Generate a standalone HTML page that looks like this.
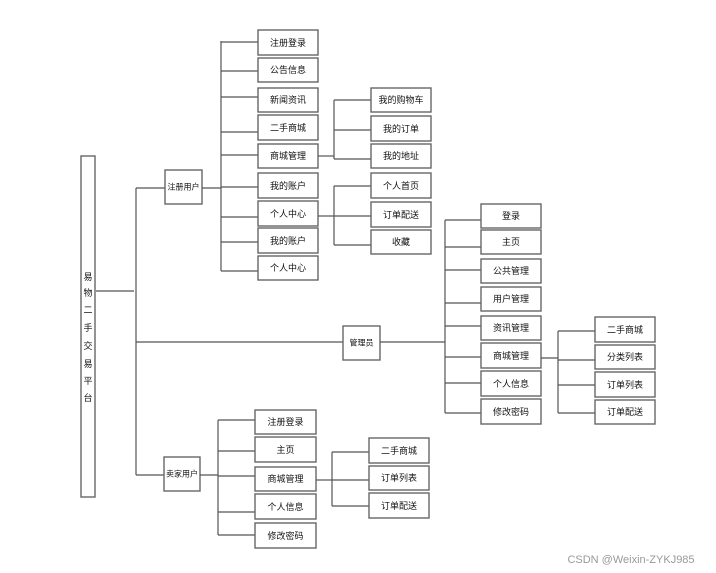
<!DOCTYPE html>
<html><head><meta charset="utf-8"><style>
html,body{margin:0;padding:0;background:#fff;}
svg{display:block;}
text{font-family:"Liberation Sans","Noto Sans CJK SC",sans-serif;font-size:9px;fill:#111;text-anchor:middle;dominant-baseline:central;}
text.s{font-size:8px;}
rect{fill:#fff;stroke:#666;stroke-width:1.4;}
line{stroke:#555;stroke-width:1.2;}
</style></head><body>
<svg width="716" height="573" viewBox="0 0 716 573">
<rect x="81" y="156" width="14" height="341"/>
<g>
<text x="88" y="277">易</text><text x="88" y="293">物</text><text x="88" y="310">二</text><text x="88" y="328">手</text><text x="88" y="346">交</text><text x="88" y="364">易</text><text x="88" y="381">平</text><text x="88" y="398">台</text>
</g>
<line x1="96" y1="291" x2="134" y2="291"/>
<line x1="136" y1="188" x2="136" y2="475"/>
<line x1="136" y1="188" x2="165" y2="188"/>
<line x1="136" y1="342" x2="343" y2="342"/>
<line x1="136" y1="475" x2="164" y2="475"/>

<rect x="165" y="170" width="37" height="34"/><text class="s" x="183.5" y="187">注册用户</text>
<line x1="202" y1="188" x2="221" y2="188"/>
<line x1="221" y1="41" x2="221" y2="271"/>
<g>
<line x1="221" y1="42" x2="258" y2="42"/><line x1="221" y1="71" x2="258" y2="71"/><line x1="221" y1="97" x2="258" y2="97"/><line x1="221" y1="132" x2="258" y2="132"/><line x1="221" y1="155" x2="258" y2="155"/><line x1="221" y1="187" x2="258" y2="187"/><line x1="221" y1="217" x2="258" y2="217"/><line x1="221" y1="242" x2="258" y2="242"/><line x1="221" y1="271" x2="258" y2="271"/>
</g>
<rect x="258" y="30" width="60" height="25"/><text x="288" y="43">注册登录</text>
<rect x="258" y="58" width="60" height="24"/><text x="288" y="70">公告信息</text>
<rect x="258" y="88" width="60" height="24"/><text x="288" y="100">新闻资讯</text>
<rect x="258" y="115" width="60" height="25"/><text x="288" y="128">二手商城</text>
<rect x="258" y="144" width="60" height="24"/><text x="288" y="156">商城管理</text>
<rect x="258" y="173" width="60" height="25"/><text x="288" y="186">我的账户</text>
<rect x="258" y="201" width="60" height="25"/><text x="288" y="214">个人中心</text>
<rect x="258" y="228" width="60" height="25"/><text x="288" y="241">我的账户</text>
<rect x="258" y="256" width="60" height="24"/><text x="288" y="268">个人中心</text>

<line x1="318" y1="156" x2="334" y2="156"/>
<line x1="334" y1="100" x2="334" y2="159"/>
<line x1="334" y1="100" x2="371" y2="100"/><line x1="334" y1="130" x2="371" y2="130"/><line x1="334" y1="159" x2="371" y2="159"/>
<rect x="371" y="88" width="60" height="24"/><text x="401" y="100">我的购物车</text>
<rect x="371" y="116" width="60" height="25"/><text x="401" y="129">我的订单</text>
<rect x="371" y="144" width="60" height="24"/><text x="401" y="156">我的地址</text>

<line x1="318" y1="216" x2="334" y2="216"/>
<line x1="334" y1="186" x2="334" y2="245"/>
<line x1="334" y1="186" x2="371" y2="186"/><line x1="334" y1="216" x2="371" y2="216"/><line x1="334" y1="245" x2="371" y2="245"/>
<rect x="371" y="173" width="60" height="25"/><text x="401" y="186">个人首页</text>
<rect x="371" y="202" width="60" height="25"/><text x="401" y="215">订单配送</text>
<rect x="371" y="230" width="60" height="24"/><text x="401" y="242">收藏</text>

<rect x="343" y="326" width="37" height="34"/><text class="s" x="361.5" y="343">管理员</text>
<line x1="380" y1="342" x2="445" y2="342"/>
<line x1="445" y1="220" x2="445" y2="413"/>
<line x1="445" y1="220" x2="481" y2="220"/><line x1="445" y1="247" x2="481" y2="247"/><line x1="445" y1="270" x2="481" y2="270"/><line x1="445" y1="303" x2="481" y2="303"/><line x1="445" y1="326" x2="481" y2="326"/><line x1="445" y1="357" x2="481" y2="357"/><line x1="445" y1="383" x2="481" y2="383"/><line x1="445" y1="413" x2="481" y2="413"/>
<rect x="481" y="204" width="60" height="24"/><text x="511" y="216">登录</text>
<rect x="481" y="230" width="60" height="24"/><text x="511" y="242">主页</text>
<rect x="481" y="259" width="60" height="24"/><text x="511" y="271">公共管理</text>
<rect x="481" y="287" width="60" height="24"/><text x="511" y="299">用户管理</text>
<rect x="481" y="316" width="60" height="24"/><text x="511" y="328">资讯管理</text>
<rect x="481" y="343" width="60" height="25"/><text x="511" y="356">商城管理</text>
<rect x="481" y="371" width="60" height="25"/><text x="511" y="384">个人信息</text>
<rect x="481" y="399" width="60" height="25"/><text x="511" y="412">修改密码</text>

<line x1="541" y1="358" x2="558" y2="358"/>
<line x1="558" y1="331" x2="558" y2="413"/>
<line x1="558" y1="331" x2="595" y2="331"/><line x1="558" y1="360" x2="595" y2="360"/><line x1="558" y1="385" x2="595" y2="385"/><line x1="558" y1="413" x2="595" y2="413"/>
<rect x="595" y="317" width="60" height="25"/><text x="625" y="330">二手商城</text>
<rect x="595" y="345" width="60" height="24"/><text x="625" y="357">分类列表</text>
<rect x="595" y="372" width="60" height="25"/><text x="625" y="385">订单列表</text>
<rect x="595" y="400" width="60" height="24"/><text x="625" y="412">订单配送</text>

<rect x="164" y="457" width="36" height="34"/><text class="s" x="182" y="474">卖家用户</text>
<line x1="200" y1="475" x2="218" y2="475"/>
<line x1="218" y1="420" x2="218" y2="535"/>
<line x1="218" y1="420" x2="255" y2="420"/><line x1="218" y1="451" x2="255" y2="451"/><line x1="218" y1="476" x2="255" y2="476"/><line x1="218" y1="512" x2="255" y2="512"/><line x1="218" y1="535" x2="255" y2="535"/>
<rect x="255" y="410" width="61" height="24"/><text x="285.5" y="422">注册登录</text>
<rect x="255" y="437" width="61" height="25"/><text x="285.5" y="450">主页</text>
<rect x="255" y="467" width="61" height="24"/><text x="285.5" y="479">商城管理</text>
<rect x="255" y="494" width="61" height="25"/><text x="285.5" y="507">个人信息</text>
<rect x="255" y="523" width="61" height="25"/><text x="285.5" y="536">修改密码</text>

<line x1="316" y1="480" x2="332" y2="480"/>
<line x1="332" y1="452" x2="332" y2="506"/>
<line x1="332" y1="452" x2="369" y2="452"/><line x1="332" y1="480" x2="369" y2="480"/><line x1="332" y1="506" x2="369" y2="506"/>
<rect x="369" y="438" width="60" height="25"/><text x="399" y="451">二手商城</text>
<rect x="369" y="466" width="60" height="24"/><text x="399" y="478">订单列表</text>
<rect x="369" y="493" width="60" height="25"/><text x="399" y="506">订单配送</text>

<text x="631" y="560" style="fill:#999;font-size:11px;">CSDN @Weixin-ZYKJ985</text>
</svg>
</body></html>
